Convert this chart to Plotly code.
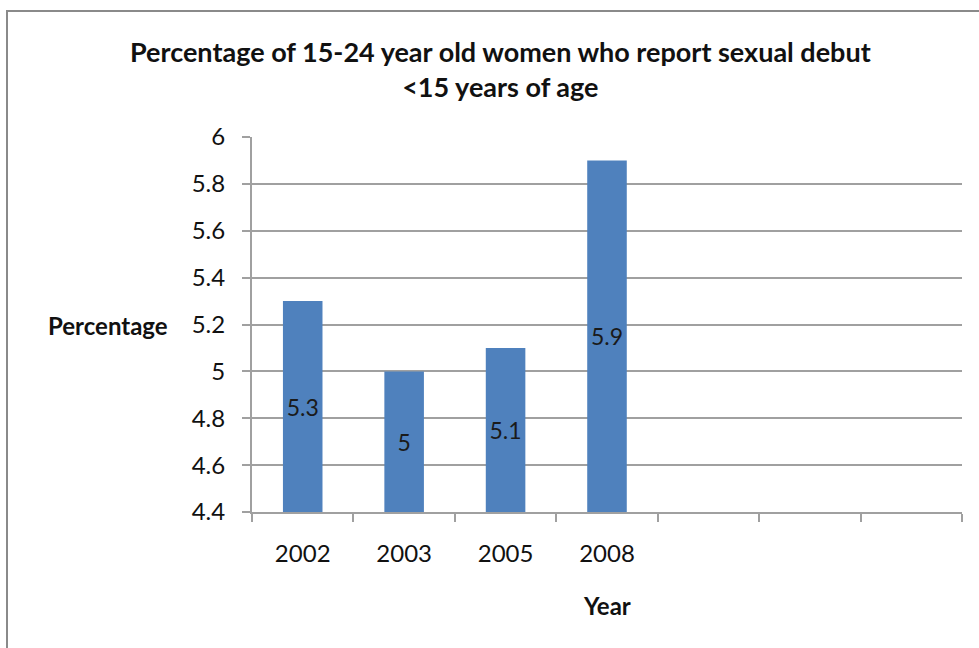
import plotly.graph_objects as go

years = ["2002", "2003", "2005", "2008"]
values = [5.3, 5.0, 5.1, 5.9]
n_slots = 7
y_min, y_max = 4.4, 6.0
y_ticks = [4.4, 4.6, 4.8, 5.0, 5.2, 5.4, 5.6, 5.8, 6.0]
y_ticktext = ["4.4", "4.6", "4.8", "5", "5.2", "5.4", "5.6", "5.8", "6"]
title_text = "Percentage of 15-24 year old women who report sexual debut<br><15 years of age"

FONT = "Lato, 'Open Sans', sans-serif"
GRID = "#a0a0a0"

xs = list(range(len(years)))
fig = go.Figure()
fig.add_trace(go.Bar(
    x=xs,
    y=[v - y_min for v in values],
    base=y_min,
    width=0.39,
    marker=dict(color="#4F81BD", line=dict(width=0)),
    text=[("%g" % v) for v in values],
    textposition="inside",
    insidetextanchor="middle",
    textangle=0,
    textfont=dict(family=FONT, size=23, color="#1a1a1a"),
    constraintext="none",
    hoverinfo="skip",
))

fig.update_layout(
    width=979, height=648,
    margin=dict(l=252, r=17, t=137, b=136),
    paper_bgcolor="white", plot_bgcolor="white",
    showlegend=False,
    xaxis=dict(
        range=[-0.5, n_slots - 0.5],
        tickvals=xs, ticktext=years,
        ticks="", showgrid=False,
        showline=True, linecolor=GRID, linewidth=2,
        tickfont=dict(family=FONT, size=24, color="#111"),
        ticklabelstandoff=19,
        minor=dict(tickmode="linear", tick0=-0.5, dtick=1, ticks="outside",
                   ticklen=8, tickwidth=2, tickcolor=GRID, showgrid=False),
        zeroline=False,
    ),
    yaxis=dict(
        range=[y_min, y_max],
        tickvals=y_ticks, ticktext=y_ticktext,
        ticks="outside", ticklen=8, tickwidth=2, tickcolor=GRID,
        showgrid=True, gridcolor=GRID, gridwidth=2,
        showline=True, linecolor=GRID, linewidth=2,
        tickfont=dict(family=FONT, size=24, color="#111"),
        ticklabelstandoff=12,
        zeroline=False,
    ),
    shapes=[dict(type="rect", xref="paper", yref="paper",
                 x0=-245 / 710, x1=1.2, y0=-1.0, y1=1 + 126 / 375,
                 line=dict(color="#8a8a8a", width=2), fillcolor="rgba(0,0,0,0)",
                 layer="below")],
    annotations=[
        dict(text=title_text, xref="paper", yref="paper",
             x=(500 - 252) / 710, y=(512 - 69) / 375, xanchor="center", yanchor="middle",
             showarrow=False, align="center",
             font=dict(family=FONT, size=27, color="#111", weight="bold")),
        dict(text="Percentage", xref="paper", yref="paper",
             x=-82 / 710, y=(512 - 325) / 375, xanchor="right", yanchor="middle",
             showarrow=False, font=dict(family=FONT, size=24, color="#111", weight="bold")),
        dict(text="Year", xref="paper", yref="paper",
             x=(607 - 252) / 710, y=-(605 - 512) / 375, xanchor="center", yanchor="middle",
             showarrow=False, font=dict(family=FONT, size=24, color="#111", weight="bold")),
    ],
)

fig.write_html("out.html")
